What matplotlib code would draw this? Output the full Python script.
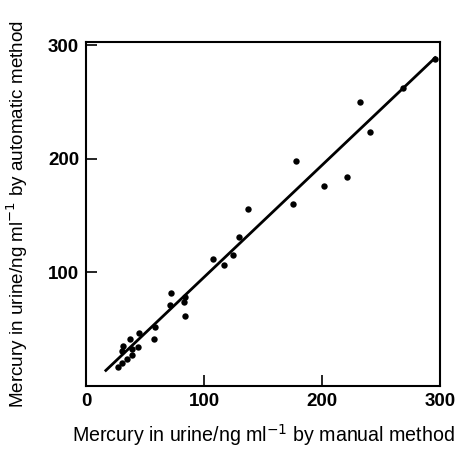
import matplotlib
matplotlib.use("Agg")
import matplotlib.pyplot as plt

manual = [295.5, 269, 232.5, 241, 221, 201.7, 177.6, 175.6, 137.5, 129.7, 124.6,
          116.8, 107.6, 84, 83.2, 84, 71.7, 70.9, 58.8, 58, 44.5, 43.7, 37.3,
          39.2, 31.7, 30.8, 39.2, 35, 30.3, 26.9]
automatic = [288, 262, 250, 223.6, 184, 176, 198, 160, 155.6, 131, 115,
             107, 111.7, 78, 73.6, 62, 82, 71, 51.7, 41.4, 47, 34.7, 41.7,
             32.3, 35.2, 30.8, 27.3, 24, 20.2, 16.7]
fit_x = [16.8, 296]
fit_y = [13.8, 289]

x_ticks = [0, 100, 200, 300]
y_ticks = [100, 200, 300]

plt.rcParams['font.family'] = ['Liberation Sans', 'DejaVu Sans']

fig = plt.figure(figsize=(4.65, 4.5), dpi=100)
ax = fig.add_axes([0.185, 0.142, 0.761, 0.765])

ax.plot(manual, automatic, 'o', color='black', markersize=4.6, markeredgewidth=0)
ax.plot(fit_x, fit_y, '-', color='black', linewidth=2)

ax.set_xlim(0, 298)
ax.set_ylim(0, 303)
ax.set_xticks(x_ticks)
ax.set_yticks(y_ticks)
ax.set_xticklabels([str(v) for v in x_ticks], fontsize=13.5, fontweight='bold')
ax.set_yticklabels([str(v) for v in y_ticks], fontsize=13.5, fontweight='bold')
ax.tick_params(direction='in', length=8, width=1.2, pad=5)
for s in ax.spines.values():
    s.set_linewidth(1.5)

ax.set_xlabel('Mercury in urine/ng ml$^{-1}$ by manual method', fontsize=14.1, labelpad=9)
ax.set_ylabel('Mercury in urine/ng ml$^{-1}$ by automatic method', fontsize=13.6, labelpad=13)

fig.savefig('out.png', dpi=100)
